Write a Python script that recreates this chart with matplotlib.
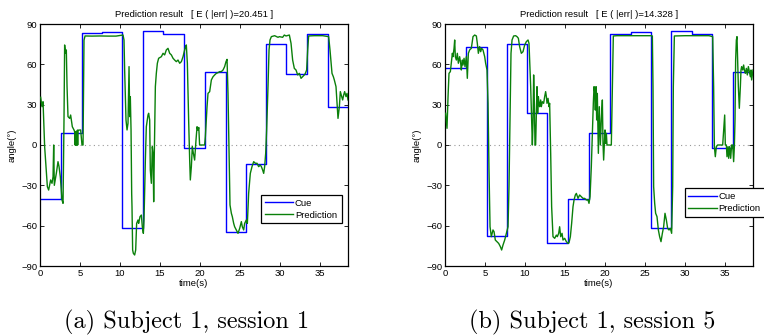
import numpy as np
import matplotlib
matplotlib.use("Agg")
import matplotlib.pyplot as plt

# cue step times (s) and levels (deg)
cue_a_t = [0, 2.6, 5.2, 7.7, 10.3, 12.9, 15.4, 18.0, 20.6, 23.2, 25.75, 28.3, 30.8, 33.4, 36.0, 38.5]
cue_a_v = [-40, 8.7, 83, 84, -61.5, 85, 82.8, -2, 54.3, -64.5, -14, 75, 52.8, 82.8, 28.2]

cue_b_t = [0, 2.6, 5.2, 7.75, 10.3, 12.8, 15.4, 18.0, 20.6, 23.2, 25.7, 28.3, 30.9, 33.4, 36.0, 38.5]
cue_b_v = [57, 73, -67.5, 75, 24, -72.7, -40, 8.7, 82.8, 84, -61.5, 85, 82.8, -2.3, 54.3]

# prediction, subject 1 session 1
pred_a_t = [0.08, 0.25, 0.38, 0.58, 0.92, 1.08, 1.33, 1.5, 1.63, 1.71, 1.79, 2.04, 2.25, 2.38, 2.54,
            2.75, 2.88, 3.0, 3.08, 3.17, 3.29, 3.38, 3.5, 3.71, 3.83, 4.04, 4.25, 4.33, 4.38, 4.42,
            4.46, 4.5, 4.54, 4.58, 4.63, 4.67, 4.71, 4.75, 5.08, 5.25, 5.38, 5.5, 5.63, 6.5, 7.5,
            8.5, 9.5, 10.38, 10.5, 10.58, 10.75, 10.88, 11.0, 11.13, 11.21, 11.29, 11.38, 11.46, 11.5,
            11.58, 11.67, 11.83, 11.96, 12.08, 12.25, 12.33, 12.5, 12.67, 12.79, 12.92, 13.0, 13.17,
            13.29, 13.5, 13.58, 13.71, 13.79, 13.92, 14.04, 14.13, 14.21, 14.29, 14.42, 14.54, 14.67,
            14.83, 15.17, 15.38, 15.58, 15.79, 16.0, 16.21, 16.42, 16.63, 16.83, 17.04, 17.25, 17.46,
            17.67, 17.88, 18.08, 18.21, 18.29, 18.42, 18.58, 18.71, 18.79, 18.92, 19.04, 19.17, 19.33,
            19.5, 19.63, 19.75, 19.85, 19.95, 20.58, 20.67, 20.88, 21.0, 21.21, 21.42, 21.63, 21.83,
            22.04, 22.25, 22.46, 22.67, 22.88, 23.08, 23.25, 23.38, 23.5, 23.63, 23.75, 23.92, 24.04,
            24.21, 24.33, 24.54, 24.75, 24.96, 25.17, 25.29, 25.46, 25.58, 25.79, 25.92, 26.08, 26.29,
            26.5, 26.71, 26.92, 27.13, 27.33, 27.54, 27.67, 27.83, 27.96, 28.08, 28.21, 28.33, 28.5,
            28.63, 28.75, 28.92, 29.33, 29.75, 29.92, 30.33, 30.54, 30.75, 31.17, 31.38, 31.58, 31.79,
            32.0, 32.21, 32.42, 32.63, 32.83, 33.04, 33.17, 33.33, 33.46, 33.58, 34.29, 35.33, 36.08,
            36.25, 36.5, 36.67, 36.79, 37.0, 37.13, 37.25, 37.42, 37.54, 37.71, 37.83, 37.96, 38.08,
            38.25, 38.38, 38.5]
pred_a_v = [35.5, 28.5, 32.2, -1.2, -31, -33.5, -26, -28.5, -23.6, 0, -30, -21.1, -12.4, -16.1, -23.6,
            -40.9, -43.4, 18.6, 74.4, 68.2, 70.7, 43.4, 21.1, 19.8, 22.3, 13.6, 11.2, 9.9, 0, 10,
            0, 10, 0, 10, 0, 11, 0, 11, 11.2, 0, 0, 78, 81.1, 81, 81.1,
            81, 81, 81.8, 78.1, 55.8, 18.6, 11.2, 16.1, 58.3, 21.1, 36.0, 11.2, -36, -45.9,
            -78.1, -80.6, -81.8, -78.1, -58.3, -55.8, -58.3, -53.3, -52.1, -60.8, -65.7, -55.8, -11.2,
            13.6, 22.3, 23.6, 18.6, -18.6, -28.5, -1.2, -6.2, -42.2, -6.2, 43.4, 53.3, 60.8,
            64.5, 65.7, 68.2, 67.0, 70.7, 71.9, 68.2, 67.0, 64.5, 63.2, 62.0, 63.2, 60.8,
            62.0, 65.7, 70.7, 73.2, 74.4, 60.8, 18.6, -11.2, -26.0, -16.1, -1.2, -6.2, -11.2,
            3.7, 13.6, 11, 13, 0, 0, 6.2, 28.5, 38.4, 39.7, 48.4, 50.8, 52.1,
            53.3, 53.8, 54.6, 54.6, 55.8, 58.3, 62.0, 63.7, 38.4, -6.2, -44.6, -50.8, -53.3,
            -58.3, -60.8, -63.2, -65.7, -62.0, -57.0, -60.8, -63.2, -58.3, -55.8, -58.3, -36.0, -21.1,
            -16.1, -12.4, -13.6, -13.6, -16.1, -14.9, -16.1, -18.6, -21.1, -16.1, -6.2, 11.2, 43.4,
            70.7, 78.1, 80.6, 81.3, 80.1, 80.6, 80.1, 81.8, 81.1, 81.8, 75.6, 63.2, 57.0,
            55.8, 52.1, 53.3, 49.6, 50.8, 52.1, 53.3, 55.8, 70.7, 81.1, 81.3, 81.3, 80.6,
            70.7, 53.3, 50.8, 48.4, 43.4, 31.0, 19.8, 28.5, 39.7, 36.0, 33.5, 37.2, 39.7,
            36.0, 38.4, 33.5]

# prediction, subject 1 session 5
pred_b_t = [0.08, 0.25, 0.38, 0.5, 0.67, 0.79, 0.92, 1.0, 1.13, 1.21, 1.29, 1.42, 1.54, 1.67, 1.83,
            1.96, 2.04, 2.17, 2.25, 2.38, 2.5, 2.67, 2.79, 2.92, 3.08, 3.29, 3.5, 3.71, 3.92, 4.04,
            4.17, 4.33, 4.46, 4.58, 4.75, 4.96, 5.08, 5.25, 5.38, 5.5, 5.63, 5.79, 6.0, 6.13, 6.29,
            6.5, 6.71, 6.92, 7.08, 7.25, 7.46, 7.67, 7.88, 8.0, 8.13, 8.25, 8.38, 8.58, 8.83, 9.0,
            9.17, 9.33, 9.54, 9.75, 9.92, 9.96, 10.17, 10.38, 10.5, 10.58, 10.71, 10.83, 10.92, 11.0,
            11.08, 11.17, 11.25, 11.33, 11.42, 11.5, 11.58, 11.67, 11.75, 11.83, 11.96, 12.04, 12.17,
            12.33, 12.46, 12.58, 12.67, 12.75, 12.88, 13.0, 13.08, 13.21, 13.33, 13.5, 13.71, 13.92,
            14.04, 14.21, 14.33, 14.46, 14.63, 14.75, 14.96, 15.17, 15.38, 15.5, 15.67, 15.83, 16.0,
            16.13, 16.29, 16.42, 16.63, 16.83, 17.04, 17.25, 17.46, 17.67, 17.88, 18.0, 18.13, 18.29,
            18.42, 18.54, 18.63, 18.71, 18.79, 18.88, 18.96, 19.04, 19.17, 19.29, 19.42, 19.54, 19.67,
            19.75, 19.83, 19.92, 20.0, 20.08, 20.17, 20.25, 20.79, 20.92, 21.04, 21.5, 23.0, 24.5,
            25.79, 25.92, 26.0, 26.08, 26.21, 26.33, 26.5, 26.67, 26.83, 27.0, 27.17, 27.33, 27.5,
            27.67, 27.83, 28.0, 28.17, 28.33, 28.46, 28.54, 28.67, 30.0, 31.5, 33.0, 33.46, 33.58,
            33.67, 33.79, 33.92, 34.08, 34.71, 34.83, 34.96, 35.04, 35.17, 35.25, 35.38, 35.46, 35.58,
            35.71, 35.83, 35.96, 36.08, 36.17, 36.25, 36.33, 36.42, 36.5, 36.58, 36.67, 36.79, 36.92,
            37.0, 37.08, 37.21, 37.33, 37.42, 37.54, 37.67, 37.79, 37.92, 38.04, 38.17, 38.25, 38.33,
            38.5]
pred_b_v = [23.6, 12.4, 36.0, 53.3, 54.6, 60.8, 68.2, 65.7, 71.9, 78.1, 65.7, 63.2, 68.2, 60.8, 65.7,
            60.8, 55.8, 63.2, 59.5, 64.5, 58.3, 65.7, 49.6, 68.2, 70.7, 71.9, 80.6, 81.8, 81.1, 75.6,
            68.2, 73.2, 69.4, 71.9, 70.7, 65.7, 60.8, 55.8, 31.0, -18.6, -60.8, -68.2, -63.2, -64.5, -70.7,
            -71.9, -73.2, -75.6, -78.1, -74.4, -70.7, -65.7, -60.8, -31.0, 18.6, 68.2, 78.1, 81.1, 81.3, 80.6,
            79.4, 73.2, 68.2, 69.4, 73.2, 74.4, 76.9, 78.1, 75.6, 63.2, 43.4, 18.6, 0, 16.1,
            52.1, 31.0, 0, 0, 23.6, 43.4, 23.6, 36.0, 31.0, 28.5, 33.5, 28.5, 32.2,
            31.0, 36.0, 39.7, 36.0, 31.0, 34.7, 28.5, 31.0, -6.2, -45.9, -68.2, -69.4, -67.0,
            -68.2, -65.7, -60.8, -68.2, -65.7, -70.7, -69.4, -71.9, -73.2, -72.7, -68.2, -58.3, -45.9,
            -40.9, -37.2, -36.0, -39.7, -37.2, -38.4, -39.7, -39.7, -40.9, -40.9, -43.4, -38.4, -16.1,
            8.7, 31.0, 43.4, 39.7, 26.0, 43.4, 18.6, 38.4, -6.2, 28.5, 0, 18.6, 33.5,
            1.2, -11.2, 0, 11.2, 1.2, 8.7, 0, 0, 43.4, 81.1, 81.3, 81.3, 81.3,
            81.3, 81.1, 43.4, -31.0, -43.4, -50.8, -53.3, -63.2, -68.2, -71.9, -65.7, -60.8, -50.8,
            -55.8, -62.0, -63.2, -62.0, -65.7, -31.0, 43.4, 81.1, 81.3, 81.3, 81.3, 80.6, 43.4,
            -1.2, -8.7, -1.2, 0, 0, 11.2, 22.3, 0, 0, -8.7, -1.2, -9.9, -1.2,
            -9.9, 0, 0, -12.4, -1.2, 18.6, 63.2, 78.1, 80.6, 63.2, 43.4, 27.3, 43.4,
            55.8, 58.3, 55.8, 59.5, 55.8, 53.3, 57.0, 52.1, 58.3, 54.6, 50.8, 55.8, 48.4,
            55.8]

errors = [20.451, 14.328]
captions = ["(a) Subject 1, session 1", "(b) Subject 1, session 5"]

plt.rcParams['font.family'] = ['Liberation Sans', 'DejaVu Sans']

fig = plt.figure(figsize=(7.64, 3.35), dpi=100)
ax_a = fig.add_axes([40 / 764, 69 / 335, 308 / 764, 242 / 335])
ax_b = fig.add_axes([445 / 764, 69 / 335, 308 / 764, 242 / 335])

panels = [
    (ax_a, cue_a_t, cue_a_v, pred_a_t, pred_a_v, (0.717, 0.176)),
    (ax_b, cue_b_t, cue_b_v, pred_b_t, pred_b_v, (0.778, 0.204)),
]

fs = 6.8
for i, (ax, ct, cv, pt, pv, leg_pos) in enumerate(panels):
    ax.axhline(0, color='#999999', ls=(0, (1, 3)), lw=0.8, zorder=1)
    ax.step(ct, cv + [cv[-1]], where='post', color='#0000ff', lw=1.0, label='Cue', zorder=2)
    ax.plot(pt, pv, color='#0a800a', lw=1.0, label='Prediction', zorder=3)
    ax.set_xlim(0, 38.5)
    ax.set_ylim(-90, 90)
    ax.set_xticks(range(0, 36, 5))
    ax.set_yticks(range(-90, 91, 30))
    ax.tick_params(direction='in', top=True, right=True, length=3, width=0.6,
                   labelsize=fs, pad=2)
    for s in ax.spines.values():
        s.set_linewidth(0.9)
    ax.set_title('Prediction result   [ E ( |err| )=%.3f ]' % errors[i], fontsize=fs, pad=5)
    ax.set_xlabel('time(s)', fontsize=fs, labelpad=1)
    ax.set_ylabel('angle(°)', fontsize=fs, labelpad=3)
    leg = ax.legend(loc='lower left', bbox_to_anchor=(leg_pos[0], leg_pos[1], 0.264, 0.12),
                    mode='expand', fontsize=fs, handlelength=3.0, handletextpad=0.2,
                    borderpad=0.4, labelspacing=0.3, fancybox=False, framealpha=1,
                    borderaxespad=0)
    leg.get_frame().set_edgecolor('black')
    leg.get_frame().set_linewidth(0.9)

fig.text(187 / 764, 1 - 322 / 335, captions[0], ha='center', va='center', family='cmr10', fontsize=17.5)
fig.text(592 / 764, 1 - 322 / 335, captions[1], ha='center', va='center', family='cmr10', fontsize=17.5)

fig.savefig('out.png', dpi=100)
